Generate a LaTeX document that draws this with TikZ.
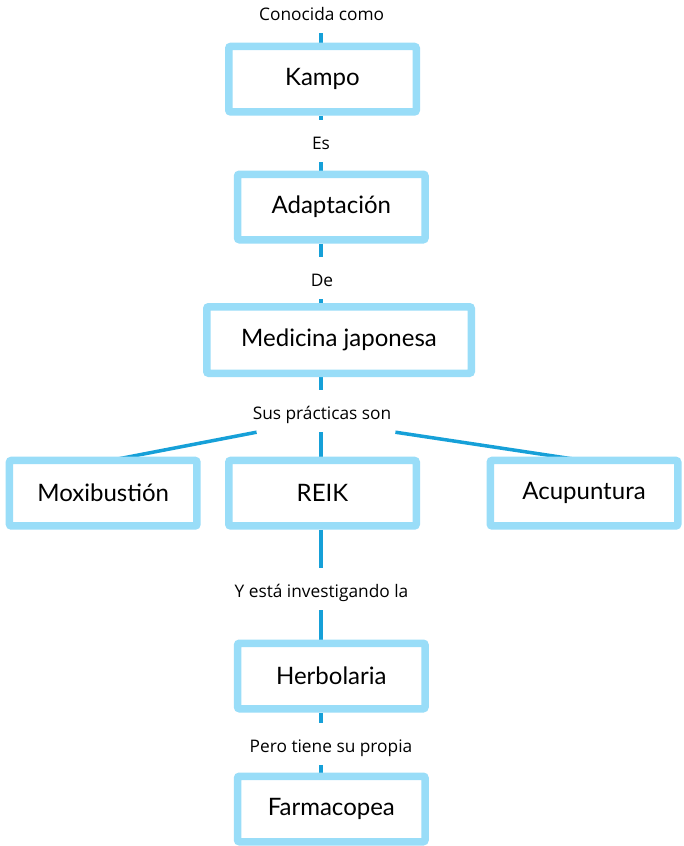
\documentclass[tikz,border=0pt]{standalone}
\usepackage{fontspec}
\setmainfont{Lato}
\newfontfamily\labfont{Open Sans}
\newfontfamily\boxfontfam{Lato}
\usetikzlibrary{backgrounds}
\definecolor{boxc}{RGB}{153,221,248}
\definecolor{linec}{RGB}{22,160,216}
\begin{document}
\begin{tikzpicture}[x=1pt,y=-1pt,
  boxn/.style={draw=boxc, line width=7.5pt, fill=white, rounded corners=2pt,
    minimum width=187.5pt, minimum height=65.5pt, inner sep=0pt,
    font=\boxfontfam\fontsize{24}{28}\selectfont},
  labn/.style={inner sep=0pt, anchor=base, text height=28.5pt, text depth=13pt,
    font=\labfont\fontsize{17.3}{20}\selectfont},
  conn/.style={draw=linec, line width=3.5pt}]
\useasboundingbox (0,0) rectangle (683,846);
% boxes
\node[boxn] (kampo) at (322.5,79.2) {Kampo};
\node[boxn] (adapt) at (331.3,207) {Adaptación};
\node[boxn, minimum width=264.5pt, minimum height=66.5pt] (medic) at (339,340) {Medicina japonesa};
\node[boxn] (moxi) at (103.2,493.2) {Moxibustión};
\node[boxn] (reik) at (322.5,493.2) {REIK};
\node[boxn] (acup) at (584,493.2) {Acupuntura};
\node[boxn] (herb) at (331.3,676) {Herbolaria};
\node[boxn] (farm) at (331.3,809) {Farmacopea};
% labels
\node[labn] (con) at (321.7,20) {Conocida como};
\node[labn] (es) at (321,149) {Es};
\node[labn] (de) at (322,286) {De};
\node[labn] (sus) at (322,419) {Sus prácticas son};
\node[labn] (yest) at (321.5,597) {Y está investigando la};
\node[labn] (pero) at (331,752) {Pero tiene su propia};
\coordinate (lx) at (321,0);
\begin{pgfonlayer}{background}
\fill[white] (0,0) rectangle (683,846);
\draw[conn] (lx |- con.south) -- (lx |- kampo.north);
\draw[conn] (lx |- kampo.south) -- (lx |- es.north);
\draw[conn] (lx |- es.south) -- (lx |- adapt.north);
\draw[conn] (lx |- adapt.south) -- (lx |- de.north);
\draw[conn] (lx |- de.south) -- (lx |- medic.north);
\draw[conn] (lx |- medic.south) -- (lx |- sus.north);
\draw[conn] (lx |- sus.south) -- (lx |- reik.north);
\draw[conn] ([xshift=4pt]sus.south west) -- ([xshift=7pt,yshift=-3.75pt]moxi.north);
\draw[conn] ([xshift=4pt]sus.south east) -- ([xshift=-1pt,yshift=-3.75pt]acup.north);
\draw[conn] (lx |- reik.south) -- (lx |- yest.north);
\draw[conn] (lx |- yest.south) -- (lx |- herb.north);
\draw[conn] (lx |- herb.south) -- (lx |- pero.north);
\draw[conn] (lx |- pero.south) -- (lx |- farm.north);
\end{pgfonlayer}
\end{tikzpicture}
\end{document}
